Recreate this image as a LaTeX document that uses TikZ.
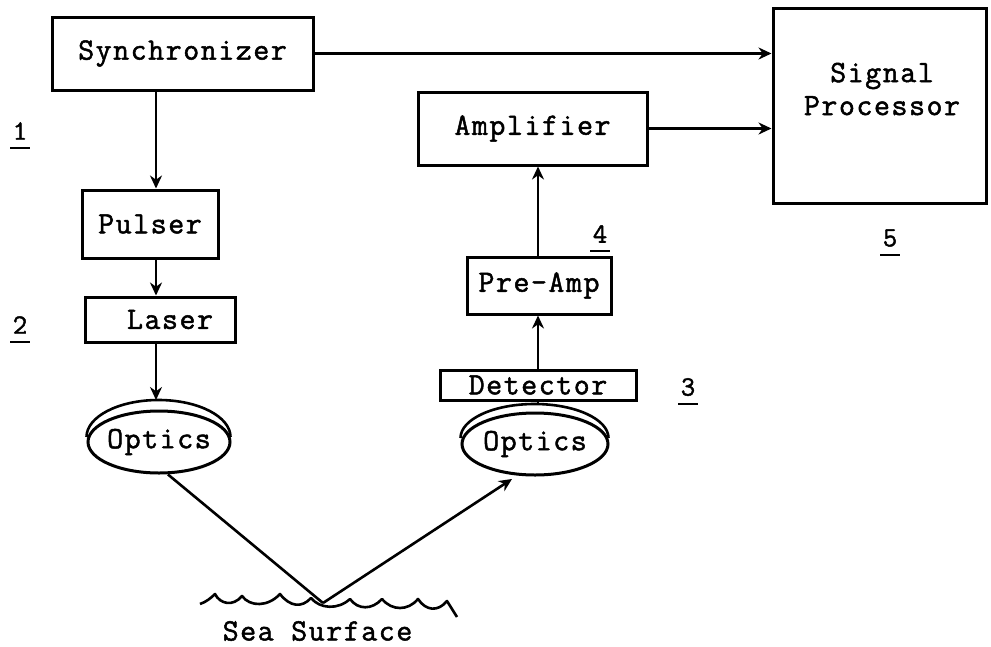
\documentclass[tikz,border=0pt]{standalone}
\usepackage{fontspec}
\setmainfont{Latin Modern Mono}[FakeBold=1.6, LetterSpace=5]
\usetikzlibrary{arrows.meta,shapes.geometric}
\begin{document}
\begin{tikzpicture}[x=1pt,y=1pt,
  every node/.style={font=\fontsize{31}{33}\selectfont},
  blk/.style={draw, line width=3pt, rectangle, inner sep=0pt},
  lens/.style={draw, line width=3pt, ellipse, inner sep=0pt},
  wire/.style={line width=2.6pt},
  arr/.style={wire, -{Stealth[length=13pt,width=12pt]}},
  tag/.style={font=\fontsize{28}{30}\selectfont},
  uline/.style={line width=2.4pt},
]
\useasboundingbox (0,0) rectangle (991,-646);

% signal columns
\coordinate (colL) at (156,0);
\coordinate (colR) at (538,0);

% blocks
\node[blk, minimum width=261, minimum height=73] (sync) at (182.5,-53.5) {Synchronizer};
\node[blk, minimum width=136, minimum height=68] (pulser) at (150,-224) {Pulser};
\node[blk, minimum width=150, minimum height=45] (laser) at (160,-319.5) {\hspace*{20pt}Laser};
\node[blk, minimum width=229, minimum height=73] (amp) at (532.5,-128.5) {Amplifier};
\node[blk, minimum width=144, minimum height=57] (preamp) at (539,-285.5) {Pre-Amp};
\node[blk, minimum width=196, minimum height=30] (det) at (538,-385) {Detector};
\node[blk, minimum width=213, minimum height=195] (proc) at (879.5,-105.5) {};
\node[align=center] (proctxt) at (882,-89) {Signal\\Processor};

% lenses with their rims
\node[lens, minimum width=142, minimum height=62, label={center:Optics}] (optL) at (159,-442) {};
\node[lens, minimum width=146, minimum height=62, label={center:Optics}] (optR) at (535,-444) {};
\draw[wire] ([yshift=5pt]optL.west) arc[start angle=180, end angle=0, x radius=72, y radius=37];
\draw[wire] ([yshift=6pt]optR.west) arc[start angle=180, end angle=0, x radius=74, y radius=34];
\coordinate (rimL) at (156,-400);
\coordinate (rimR) at (538,-404);

% connectors
\draw[arr] (sync.east) -- (sync.east -| proc.west);
\draw[arr] (amp.east) -- (amp.east -| proc.west);
\draw[arr] (sync.south -| colL) -- (pulser.north -| colL);
\draw[arr] (pulser.south -| colL) -- (laser.north -| colL);
\draw[arr] (laser.south -| colL) -- (rimL);
\draw[wire] (det.south -| colR) -- (rimR);
\draw[arr] (det.north -| colR) -- (preamp.south -| colR);
\draw[arr] (preamp.north -| colR) -- (amp.south -| colR);

% beam down to the sea and back up
\coordinate (sea) at (323,-603);
\coordinate (tipR) at (512,-479);
\draw[wire] ([xshift=9pt]optL.south) -- (sea);
\draw[arr] (sea) -- (tipR);

% sea surface
\draw[wire, line join=round]
  (200,-604) .. controls (206,-602) and (211,-598) .. (215,-594)
  .. controls (220,-604) and (233,-607) .. (242,-596)
  .. controls (250,-607) and (268,-607) .. (280,-594)
  .. controls (290,-607) and (302,-608) .. (311,-598)
  .. controls (320,-609) and (338,-610) .. (350,-599)
  .. controls (358,-610) and (372,-610) .. (382,-599)
  .. controls (392,-611) and (408,-611) .. (418,-599)
  .. controls (426,-611) and (438,-612) .. (447,-601)
  -- (457,-617);
\node (seatxt) at (317.5,-631) {Sea Surface};

% stage numbers
\node[tag] (n1) at (20,-131) {1};
\draw[uline] (10,-148) -- (30,-148);
\node[tag] (n2) at (20,-325) {2};
\draw[uline] (10,-342) -- (30,-342);
\node[tag] (n3) at (688,-387) {3};
\draw[uline] (678,-404) -- (698,-404);
\node[tag] (n4) at (600,-234) {4};
\draw[uline] (590,-251) -- (610,-251);
\node[tag] (n5) at (890,-238) {5};
\draw[uline] (880,-255) -- (900,-255);
\end{tikzpicture}
\end{document}
